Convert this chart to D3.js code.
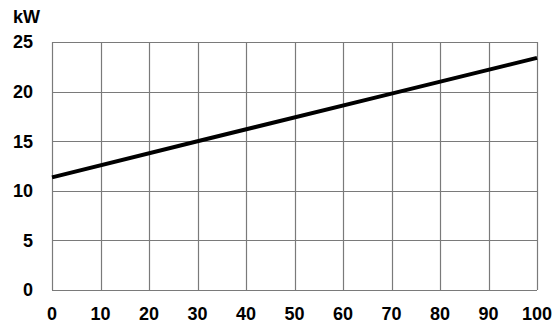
<!DOCTYPE html>
<html>
<head>
<meta charset="utf-8">
<script src="https://cdn.jsdelivr.net/npm/d3@7"></script>
<style>
  body { margin: 0; background: #fff; }
  text { font-family: "Liberation Sans", Arial, sans-serif; font-weight: bold; font-size: 18px; fill: #000; }
</style>
</head>
<body>
<div id="chart"></div>
<script>
// values
const xTicks = [0, 10, 20, 30, 40, 50, 60, 70, 80, 90, 100];
const yTicks = [0, 5, 10, 15, 20, 25];
const lineX = [0, 30, 70, 100];
const lineY = [11.35, 15.0, 19.8, 23.4];
const unitLabel = "kW";

const width = 554, height = 332;
const plotLeft = 52, plotRight = 537, plotTop = 42, plotBottom = 290;

const svg = d3
  .select("#chart")
  .append("svg")
  .attr("width", width)
  .attr("height", height);

const x = d3.scaleLinear().domain([0, 100]).range([plotLeft, plotRight]);
const y = d3.scaleLinear().domain([0, 25]).range([plotBottom, plotTop]);

// grid
svg
  .append("g")
  .selectAll("line")
  .data(xTicks)
  .enter()
  .append("line")
  .attr("x1", (d) => Math.round(x(d)) + 0.5)
  .attr("x2", (d) => Math.round(x(d)) + 0.5)
  .attr("y1", plotTop)
  .attr("y2", plotBottom)
  .attr("stroke", "#7a7a7a")
  .attr("stroke-width", 1.2);

svg
  .append("g")
  .selectAll("line")
  .data(yTicks)
  .enter()
  .append("line")
  .attr("x1", plotLeft)
  .attr("x2", plotRight)
  .attr("y1", (d) => Math.round(y(d)) + 0.5)
  .attr("y2", (d) => Math.round(y(d)) + 0.5)
  .attr("stroke", "#7a7a7a")
  .attr("stroke-width", 1.2);

// tick labels
svg
  .append("g")
  .selectAll("text")
  .data(yTicks)
  .enter()
  .append("text")
  .attr("x", 33)
  .attr("y", (d) => y(d))
  .attr("dy", "0.36em")
  .attr("text-anchor", "end")
  .text((d) => d);

svg
  .append("g")
  .selectAll("text")
  .data(xTicks)
  .enter()
  .append("text")
  .attr("x", (d) => x(d))
  .attr("y", 320)
  .attr("text-anchor", "middle")
  .text((d) => d);

svg
  .append("text")
  .attr("x", 13)
  .attr("y", 23)
  .text(unitLabel);

// the curve
const pts = lineX.map((d, i) => [d, lineY[i]]);
svg
  .append("path")
  .datum(pts)
  .attr("fill", "none")
  .attr("stroke", "#000")
  .attr("stroke-width", 4)
  .attr(
    "d",
    d3
      .line()
      .x((d) => x(d[0]))
      .y((d) => y(d[1]))
  );
</script>
</body>
</html>
